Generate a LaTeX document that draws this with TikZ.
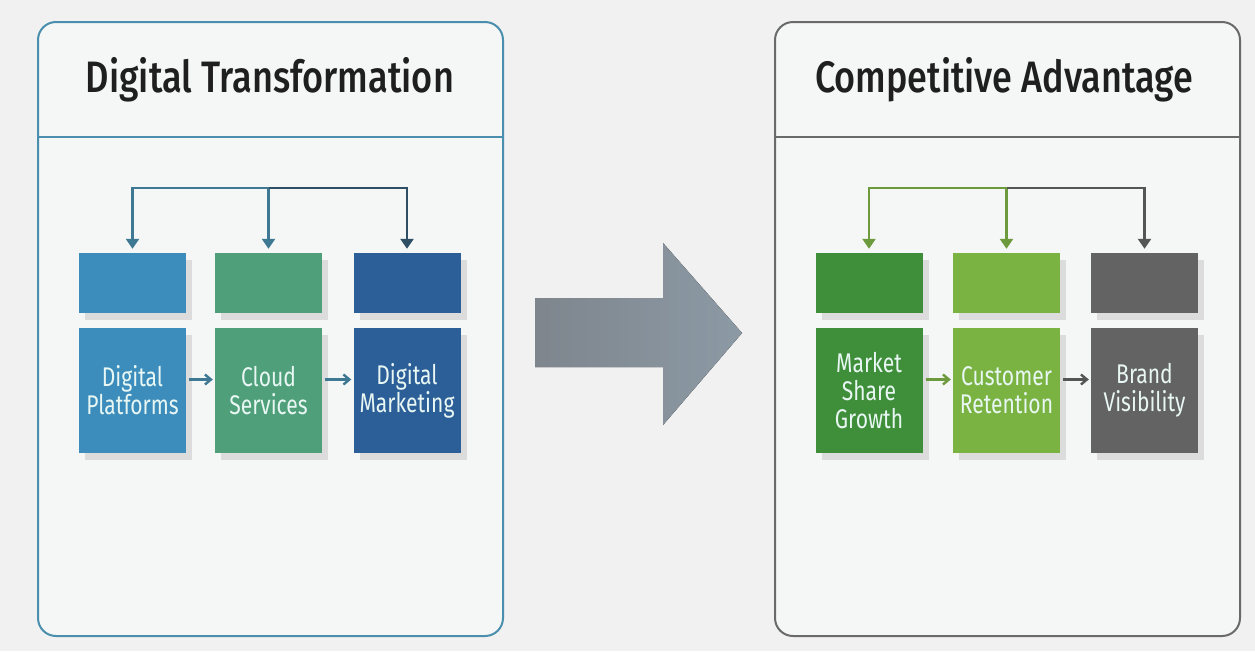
\documentclass[tikz,border=0pt]{standalone}
\usepackage{fontspec}
\usepackage{graphicx}
\setmainfont{Fira Sans}
\newfontfamily\labelfont{Fira Sans}[FakeStretch=0.78]
\newfontfamily\headfont{Fira Sans Medium}
\usetikzlibrary{arrows.meta,shadows}

\definecolor{bgc}{HTML}{F1F1F1}
\definecolor{panelc}{HTML}{F5F6F6}
\definecolor{blueframe}{HTML}{4B8FAE}
\definecolor{greyframe}{HTML}{6A6A6A}
\definecolor{bOne}{HTML}{3C8DBC}
\definecolor{bTwo}{HTML}{4FA07A}
\definecolor{bThree}{HTML}{2C5F98}
\definecolor{gOne}{HTML}{3F8E3A}
\definecolor{gTwo}{HTML}{7AB342}
\definecolor{gThree}{HTML}{636363}
\definecolor{linkblue}{HTML}{3E7893}
\definecolor{linkdark}{HTML}{2E4E66}
\definecolor{linkgreen}{HTML}{6E9A3E}
\definecolor{linkgrey}{HTML}{555555}
\definecolor{lighttext}{HTML}{E8F7F3}
\definecolor{arrowdark}{RGB}{126,133,141}
\definecolor{arrowlight}{RGB}{140,154,165}

\tikzset{
  panel/.style={draw, line width=2pt, rounded corners=18pt, fill=panelc},
  tilebox/.style={minimum width=107pt, minimum height=60pt, inner sep=0pt,
    drop shadow={shadow xshift=6pt, shadow yshift=-7pt, opacity=0.10, fill=black}},
  labelbox/.style={minimum width=107pt, minimum height=125pt, inner sep=0pt,
    text=lighttext, align=center,
    font=\labelfont\fontsize{27}{28}\selectfont,
    drop shadow={shadow xshift=6pt, shadow yshift=-7pt, opacity=0.10, fill=black}},
  link/.style={line width=2.4pt, -{Triangle[width=13pt,length=10pt]}, shorten >=4pt},
  flow/.style={line width=2.4pt, -{Straight Barb[width=10pt,length=6pt]}},
  headline/.style={font=\headfont\fontsize{44}{44}\selectfont, text=black!88},
}

\begin{document}
\begin{tikzpicture}[x=1pt,y=-1pt]
  \useasboundingbox (0,0) rectangle (1255,651);
  \fill[bgc] (0,0) rectangle (1255,651);

  % ---------- left panel ----------
  \draw[panel, draw=blueframe] (38,22) rectangle (503,636);
  \draw[blueframe, line width=2pt] (38,137) -- (503,137);
  \node[headline] (ltitle) at (270,80) {\resizebox{368pt}{\height}{Digital Transformation}};

  \node[tilebox, fill=bOne]   (t1) at (132.5,283) {};
  \node[tilebox, fill=bTwo]   (t2) at (268.5,283) {};
  \node[tilebox, fill=bThree] (t3) at (407,283) {};

  \node[labelbox, fill=bOne]   (b1) at (132.5,390.5) {Digital\\Platforms};
  \node[labelbox, fill=bTwo]   (b2) at (268.5,390.5) {Cloud\\Services};
  \node[labelbox, fill=bThree] (b3) at (407,390.5) {Digital\\Marketing};

  \coordinate (lhub) at (268.5,188);
  \draw[link, draw=linkblue] (lhub) -| (t1.north);
  \draw[link, draw=linkblue] (lhub) -- (t2.north);
  \draw[link, draw=linkdark] (lhub) -| (t3.north);

  \draw[flow, draw=linkblue] ([shift={(3,-11)}]b1.east) -- ([shift={(-2,-11)}]b2.west);
  \draw[flow, draw=linkblue] ([shift={(3,-11)}]b2.east) -- ([shift={(-2,-11)}]b3.west);

  % ---------- central arrow ----------
  \fill[left color=arrowdark, right color=arrowlight]
    (535,298) -- (663,298) -- (663,243) -- (742,333) -- (663,425) -- (663,367) -- (535,367) -- cycle;

  % ---------- right panel ----------
  \draw[panel, draw=greyframe] (775,22) rectangle (1240,636);
  \draw[greyframe, line width=2pt] (775,137) -- (1240,137);
  \node[headline] (rtitle) at (1004,80) {\resizebox{378pt}{\height}{Competitive Advantage}};

  \node[tilebox, fill=gOne]   (t4) at (869,283) {};
  \node[tilebox, fill=gTwo]   (t5) at (1006.5,283) {};
  \node[tilebox, fill=gThree] (t6) at (1144.5,283) {};

  \node[labelbox, fill=gOne]   (b4) at (869,390.5) {Market\\Share\\Growth};
  \node[labelbox, fill=gTwo]   (b5) at (1006.5,390.5) {Customer\\Retention};
  \node[labelbox, fill=gThree] (b6) at (1144.5,390.5) {Brand\\Visibility};

  \coordinate (rhub) at (1006.5,188);
  \draw[link, draw=linkgreen] (rhub) -| (t4.north);
  \draw[link, draw=linkgreen] (rhub) -- (t5.north);
  \draw[link, draw=linkgrey] (rhub) -| (t6.north);

  \draw[flow, draw=linkgreen] ([shift={(3,-11)}]b4.east) -- ([shift={(-2,-11)}]b5.west);
  \draw[flow, draw=linkgrey] ([shift={(3,-11)}]b5.east) -- ([shift={(-2,-11)}]b6.west);
\end{tikzpicture}
\end{document}
